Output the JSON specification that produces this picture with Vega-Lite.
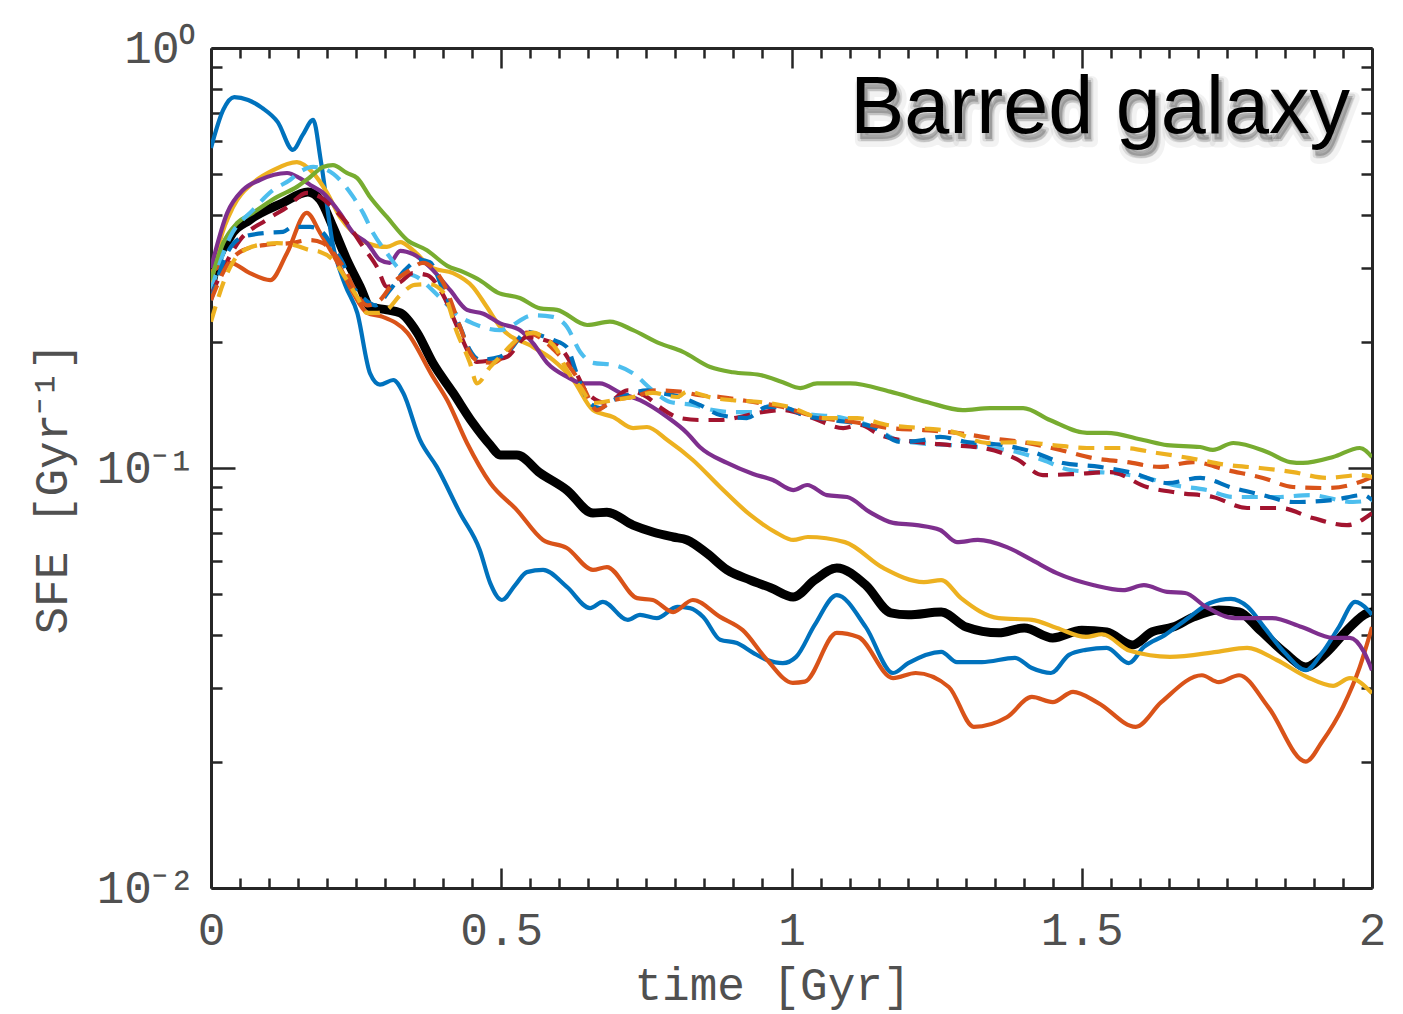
{
  "$schema": "https://vega.github.io/schema/vega-lite/v6.json",
  "autosize": {"type": "none"},
  "width": 1161,
  "height": 840,
  "padding": {"left": 211, "top": 48, "right": 31, "bottom": 126},
  "background": "white",
  "config": {
    "view": {"stroke": null},
    "axis": {
      "grid": false,
      "domainColor": "#262626",
      "tickColor": "#262626",
      "labelColor": "#505050",
      "titleColor": "#505050",
      "labelFont": "Liberation Mono",
      "titleFont": "Liberation Mono",
      "labelFontSize": 46,
      "titleFontSize": 46,
      "titleFontWeight": "normal",
      "labelFlush": false,
      "labelOverlap": false
    }
  },
  "datasets": {
    "mean": [
      {"t":0,"v":0.265},{"t":0.003,"v":0.280},{"t":0.033,"v":0.355},{"t":0.067,"v":0.390},{"t":0.124,"v":0.428},{"t":0.167,"v":0.454},{"t":0.188,"v":0.435},{"t":0.210,"v":0.375},{"t":0.234,"v":0.313},{"t":0.257,"v":0.270},{"t":0.274,"v":0.242},{"t":0.303,"v":0.238},{"t":0.326,"v":0.234},{"t":0.355,"v":0.210},{"t":0.382,"v":0.178},{"t":0.417,"v":0.151},{"t":0.451,"v":0.128},{"t":0.481,"v":0.1134},{"t":0.498,"v":0.1074},{"t":0.527,"v":0.1074},{"t":0.567,"v":0.0973},{"t":0.613,"v":0.0886},{"t":0.658,"v":0.0781},{"t":0.682,"v":0.0785},{"t":0.727,"v":0.0731},{"t":0.761,"v":0.0704},{"t":0.796,"v":0.0685},{"t":0.820,"v":0.0674},{"t":0.854,"v":0.0627},{"t":0.889,"v":0.0572},{"t":0.929,"v":0.0541},{"t":0.965,"v":0.0518},{"t":1.003,"v":0.0493},{"t":1.040,"v":0.0541},{"t":1.078,"v":0.0578},{"t":1.128,"v":0.0526},{"t":1.171,"v":0.0452},{"t":1.201,"v":0.0447},{"t":1.258,"v":0.0454},{"t":1.301,"v":0.0418},{"t":1.357,"v":0.0405},{"t":1.401,"v":0.0416},{"t":1.450,"v":0.0394},{"t":1.500,"v":0.0411},{"t":1.543,"v":0.0407},{"t":1.587,"v":0.0379},{"t":1.621,"v":0.0407},{"t":1.657,"v":0.0418},{"t":1.693,"v":0.0442},{"t":1.736,"v":0.0459},{"t":1.771,"v":0.0454},{"t":1.807,"v":0.0411},{"t":1.850,"v":0.0363},{"t":1.886,"v":0.0336},{"t":1.921,"v":0.0363},{"t":1.957,"v":0.0411},{"t":1.993,"v":0.0452},{"t":2.0,"v":0.0454}
    ],
    "solidA": [
      {"s":"s1","t":0,"v":0.578},{"s":"s1","t":0.021,"v":0.712},{"s":"s1","t":0.040,"v":0.764},{"s":"s1","t":0.064,"v":0.752},{"s":"s1","t":0.088,"v":0.720},{"s":"s1","t":0.115,"v":0.666},{"s":"s1","t":0.141,"v":0.572},{"s":"s1","t":0.158,"v":0.621},{"s":"s1","t":0.176,"v":0.674},{"s":"s1","t":0.189,"v":0.541},{"s":"s1","t":0.210,"v":0.340},{"s":"s1","t":0.231,"v":0.273},{"s":"s1","t":0.252,"v":0.234},{"s":"s1","t":0.274,"v":0.168},{"s":"s1","t":0.291,"v":0.158},{"s":"s1","t":0.314,"v":0.162},{"s":"s1","t":0.331,"v":0.151},{"s":"s1","t":0.360,"v":0.1166},{"s":"s1","t":0.389,"v":0.1006},{"s":"s1","t":0.429,"v":0.0781},{"s":"s1","t":0.463,"v":0.0638},{"s":"s1","t":0.481,"v":0.0532},{"s":"s1","t":0.501,"v":0.0485},{"s":"s1","t":0.524,"v":0.0526},{"s":"s1","t":0.544,"v":0.0565},{"s":"s1","t":0.572,"v":0.0572},{"s":"s1","t":0.613,"v":0.0521},{"s":"s1","t":0.653,"v":0.0464},{"s":"s1","t":0.675,"v":0.0480},{"s":"s1","t":0.718,"v":0.0435},{"s":"s1","t":0.739,"v":0.0447},{"s":"s1","t":0.768,"v":0.0439},{"s":"s1","t":0.803,"v":0.0467},{"s":"s1","t":0.825,"v":0.0464},{"s":"s1","t":0.848,"v":0.0442},{"s":"s1","t":0.877,"v":0.0390},{"s":"s1","t":0.906,"v":0.0383},{"s":"s1","t":0.934,"v":0.0363},{"s":"s1","t":0.958,"v":0.0349},{"s":"s1","t":0.985,"v":0.0343},{"s":"s1","t":1.008,"v":0.0355},{"s":"s1","t":1.040,"v":0.0423},{"s":"s1","t":1.078,"v":0.0498},{"s":"s1","t":1.128,"v":0.0418},{"s":"s1","t":1.175,"v":0.0325},{"s":"s1","t":1.201,"v":0.0343},{"s":"s1","t":1.258,"v":0.0365},{"s":"s1","t":1.285,"v":0.0345},{"s":"s1","t":1.328,"v":0.0345},{"s":"s1","t":1.385,"v":0.0353},{"s":"s1","t":1.414,"v":0.0334},{"s":"s1","t":1.447,"v":0.0325},{"s":"s1","t":1.478,"v":0.0359},{"s":"s1","t":1.507,"v":0.0369},{"s":"s1","t":1.543,"v":0.0373},{"s":"s1","t":1.581,"v":0.0343},{"s":"s1","t":1.607,"v":0.0375},{"s":"s1","t":1.643,"v":0.0400},{"s":"s1","t":1.686,"v":0.0442},{"s":"s1","t":1.721,"v":0.0477},{"s":"s1","t":1.757,"v":0.0488},{"s":"s1","t":1.786,"v":0.0467},{"s":"s1","t":1.814,"v":0.0418},{"s":"s1","t":1.850,"v":0.0363},{"s":"s1","t":1.886,"v":0.0330},{"s":"s1","t":1.914,"v":0.0363},{"s":"s1","t":1.943,"v":0.0418},{"s":"s1","t":1.971,"v":0.0480},{"s":"s1","t":1.993,"v":0.0459},{"s":"s1","t":2.0,"v":0.0447},
      {"s":"s2","t":0,"v":0.293},{"s":"s2","t":0.033,"v":0.308},{"s":"s2","t":0.067,"v":0.291},{"s":"s2","t":0.102,"v":0.280},{"s":"s2","t":0.131,"v":0.325},{"s":"s2","t":0.165,"v":0.405},{"s":"s2","t":0.188,"v":0.363},{"s":"s2","t":0.222,"v":0.301},{"s":"s2","t":0.245,"v":0.261},{"s":"s2","t":0.269,"v":0.234},{"s":"s2","t":0.296,"v":0.229},{"s":"s2","t":0.338,"v":0.210},{"s":"s2","t":0.382,"v":0.165},{"s":"s2","t":0.407,"v":0.145},{"s":"s2","t":0.441,"v":0.1147},{"s":"s2","t":0.481,"v":0.0921},{"s":"s2","t":0.527,"v":0.0794},{"s":"s2","t":0.572,"v":0.0674},{"s":"s2","t":0.613,"v":0.0645},{"s":"s2","t":0.658,"v":0.0572},{"s":"s2","t":0.682,"v":0.0581},{"s":"s2","t":0.734,"v":0.0490},{"s":"s2","t":0.761,"v":0.0485},{"s":"s2","t":0.796,"v":0.0454},{"s":"s2","t":0.830,"v":0.0485},{"s":"s2","t":0.877,"v":0.0442},{"s":"s2","t":0.916,"v":0.0411},{"s":"s2","t":0.958,"v":0.0349},{"s":"s2","t":1.002,"v":0.0308},{"s":"s2","t":1.023,"v":0.0310},{"s":"s2","t":1.078,"v":0.0405},{"s":"s2","t":1.115,"v":0.0396},{"s":"s2","t":1.175,"v":0.0316},{"s":"s2","t":1.214,"v":0.0325},{"s":"s2","t":1.271,"v":0.0301},{"s":"s2","t":1.314,"v":0.0242},{"s":"s2","t":1.371,"v":0.0255},{"s":"s2","t":1.414,"v":0.0285},{"s":"s2","t":1.450,"v":0.0277},{"s":"s2","t":1.485,"v":0.0293},{"s":"s2","t":1.528,"v":0.0276},{"s":"s2","t":1.593,"v":0.0242},{"s":"s2","t":1.637,"v":0.0277},{"s":"s2","t":1.707,"v":0.0321},{"s":"s2","t":1.736,"v":0.0309},{"s":"s2","t":1.771,"v":0.0321},{"s":"s2","t":1.821,"v":0.0270},{"s":"s2","t":1.886,"v":0.0200},{"s":"s2","t":1.914,"v":0.0223},{"s":"s2","t":1.950,"v":0.0270},{"s":"s2","t":1.979,"v":0.0336},{"s":"s2","t":2.0,"v":0.0418},
      {"s":"s3","t":0,"v":0.273},{"s":"s3","t":0.016,"v":0.349},{"s":"s3","t":0.038,"v":0.418},{"s":"s3","t":0.072,"v":0.477},{"s":"s3","t":0.107,"v":0.512},{"s":"s3","t":0.148,"v":0.535},{"s":"s3","t":0.176,"v":0.504},{"s":"s3","t":0.200,"v":0.452},{"s":"s3","t":0.222,"v":0.396},{"s":"s3","t":0.245,"v":0.363},{"s":"s3","t":0.269,"v":0.343},{"s":"s3","t":0.303,"v":0.336},{"s":"s3","t":0.326,"v":0.345},{"s":"s3","t":0.348,"v":0.330},{"s":"s3","t":0.382,"v":0.299},{"s":"s3","t":0.417,"v":0.291},{"s":"s3","t":0.451,"v":0.270},{"s":"s3","t":0.475,"v":0.242},{"s":"s3","t":0.498,"v":0.217},{"s":"s3","t":0.555,"v":0.194},{"s":"s3","t":0.589,"v":0.181},{"s":"s3","t":0.624,"v":0.162},{"s":"s3","t":0.658,"v":0.1374},{"s":"s3","t":0.693,"v":0.1322},{"s":"s3","t":0.727,"v":0.1245},{"s":"s3","t":0.751,"v":0.1252},{"s":"s3","t":0.786,"v":0.1166},{"s":"s3","t":0.830,"v":0.1045},{"s":"s3","t":0.877,"v":0.0901},{"s":"s3","t":0.929,"v":0.0773},{"s":"s3","t":0.975,"v":0.0700},{"s":"s3","t":1.003,"v":0.0674},{"s":"s3","t":1.028,"v":0.0685},{"s":"s3","t":1.092,"v":0.0666},{"s":"s3","t":1.158,"v":0.0578},{"s":"s3","t":1.228,"v":0.0535},{"s":"s3","t":1.258,"v":0.0541},{"s":"s3","t":1.292,"v":0.0490},{"s":"s3","t":1.357,"v":0.0439},{"s":"s3","t":1.414,"v":0.0435},{"s":"s3","t":1.457,"v":0.0416},{"s":"s3","t":1.507,"v":0.0396},{"s":"s3","t":1.535,"v":0.0402},{"s":"s3","t":1.583,"v":0.0367},{"s":"s3","t":1.652,"v":0.0355},{"s":"s3","t":1.733,"v":0.0365},{"s":"s3","t":1.785,"v":0.0373},{"s":"s3","t":1.836,"v":0.0349},{"s":"s3","t":1.888,"v":0.0318},{"s":"s3","t":1.933,"v":0.0303},{"s":"s3","t":1.962,"v":0.0316},{"s":"s3","t":2.0,"v":0.0291}
    ],
    "solidB": [
      {"s":"s4","t":0,"v":0.299},{"s":"s4","t":0.028,"v":0.405},{"s":"s4","t":0.055,"v":0.459},{"s":"s4","t":0.084,"v":0.485},{"s":"s4","t":0.131,"v":0.504},{"s":"s4","t":0.153,"v":0.490},{"s":"s4","t":0.171,"v":0.472},{"s":"s4","t":0.193,"v":0.452},{"s":"s4","t":0.222,"v":0.405},{"s":"s4","t":0.245,"v":0.363},{"s":"s4","t":0.269,"v":0.343},{"s":"s4","t":0.291,"v":0.313},{"s":"s4","t":0.308,"v":0.308},{"s":"s4","t":0.326,"v":0.329},{"s":"s4","t":0.348,"v":0.323},{"s":"s4","t":0.377,"v":0.301},{"s":"s4","t":0.412,"v":0.265},{"s":"s4","t":0.441,"v":0.238},{"s":"s4","t":0.469,"v":0.233},{"s":"s4","t":0.498,"v":0.221},{"s":"s4","t":0.532,"v":0.213},{"s":"s4","t":0.555,"v":0.198},{"s":"s4","t":0.579,"v":0.178},{"s":"s4","t":0.613,"v":0.165},{"s":"s4","t":0.641,"v":0.159},{"s":"s4","t":0.670,"v":0.159},{"s":"s4","t":0.705,"v":0.151},{"s":"s4","t":0.739,"v":0.145},{"s":"s4","t":0.786,"v":0.1322},{"s":"s4","t":0.820,"v":0.1212},{"s":"s4","t":0.842,"v":0.1122},{"s":"s4","t":0.889,"v":0.1028},{"s":"s4","t":0.934,"v":0.0968},{"s":"s4","t":0.968,"v":0.0936},{"s":"s4","t":1.003,"v":0.0886},{"s":"s4","t":1.027,"v":0.0911},{"s":"s4","t":1.061,"v":0.0862},{"s":"s4","t":1.096,"v":0.0853},{"s":"s4","t":1.135,"v":0.0785},{"s":"s4","t":1.175,"v":0.0740},{"s":"s4","t":1.216,"v":0.0731},{"s":"s4","t":1.256,"v":0.0712},{"s":"s4","t":1.285,"v":0.0666},{"s":"s4","t":1.321,"v":0.0674},{"s":"s4","t":1.371,"v":0.0648},{"s":"s4","t":1.414,"v":0.0604},{"s":"s4","t":1.457,"v":0.0562},{"s":"s4","t":1.521,"v":0.0526},{"s":"s4","t":1.571,"v":0.0512},{"s":"s4","t":1.607,"v":0.0526},{"s":"s4","t":1.647,"v":0.0507},{"s":"s4","t":1.678,"v":0.0504},{"s":"s4","t":1.714,"v":0.0467},{"s":"s4","t":1.764,"v":0.0439},{"s":"s4","t":1.828,"v":0.0439},{"s":"s4","t":1.879,"v":0.0418},{"s":"s4","t":1.933,"v":0.0394},{"s":"s4","t":1.962,"v":0.0394},{"s":"s4","t":1.986,"v":0.0365},{"s":"s4","t":2.0,"v":0.0330},
      {"s":"s5","t":0,"v":0.280},{"s":"s5","t":0.021,"v":0.343},{"s":"s5","t":0.045,"v":0.383},{"s":"s5","t":0.072,"v":0.405},{"s":"s5","t":0.114,"v":0.442},{"s":"s5","t":0.148,"v":0.467},{"s":"s5","t":0.171,"v":0.493},{"s":"s5","t":0.193,"v":0.521},{"s":"s5","t":0.210,"v":0.526},{"s":"s5","t":0.234,"v":0.504},{"s":"s5","t":0.252,"v":0.490},{"s":"s5","t":0.274,"v":0.442},{"s":"s5","t":0.303,"v":0.396},{"s":"s5","t":0.338,"v":0.349},{"s":"s5","t":0.372,"v":0.330},{"s":"s5","t":0.407,"v":0.303},{"s":"s5","t":0.434,"v":0.293},{"s":"s5","t":0.463,"v":0.280},{"s":"s5","t":0.493,"v":0.262},{"s":"s5","t":0.532,"v":0.254},{"s":"s5","t":0.567,"v":0.240},{"s":"s5","t":0.596,"v":0.238},{"s":"s5","t":0.648,"v":0.219},{"s":"s5","t":0.687,"v":0.223},{"s":"s5","t":0.727,"v":0.213},{"s":"s5","t":0.773,"v":0.198},{"s":"s5","t":0.813,"v":0.189},{"s":"s5","t":0.860,"v":0.174},{"s":"s5","t":0.899,"v":0.169},{"s":"s5","t":0.946,"v":0.1665},{"s":"s5","t":0.985,"v":0.160},{"s":"s5","t":1.015,"v":0.155},{"s":"s5","t":1.044,"v":0.159},{"s":"s5","t":1.101,"v":0.159},{"s":"s5","t":1.170,"v":0.152},{"s":"s5","t":1.233,"v":0.1436},{"s":"s5","t":1.295,"v":0.1374},{"s":"s5","t":1.342,"v":0.1389},{"s":"s5","t":1.399,"v":0.1389},{"s":"s5","t":1.445,"v":0.1301},{"s":"s5","t":1.509,"v":0.1212},{"s":"s5","t":1.543,"v":0.1212},{"s":"s5","t":1.606,"v":0.1166},{"s":"s5","t":1.647,"v":0.1134},{"s":"s5","t":1.704,"v":0.1122},{"s":"s5","t":1.726,"v":0.1104},{"s":"s5","t":1.761,"v":0.1147},{"s":"s5","t":1.819,"v":0.1092},{"s":"s5","t":1.859,"v":0.1033},{"s":"s5","t":1.881,"v":0.1028},{"s":"s5","t":1.933,"v":0.1062},{"s":"s5","t":1.979,"v":0.1116},{"s":"s5","t":2.0,"v":0.1062}
    ],
    "dashed": [
      {"s":"d1","t":0,"v":0.265},{"s":"d1","t":0.033,"v":0.355},{"s":"d1","t":0.072,"v":0.411},{"s":"d1","t":0.107,"v":0.459},{"s":"d1","t":0.136,"v":0.485},{"s":"d1","t":0.153,"v":0.507},{"s":"d1","t":0.176,"v":0.521},{"s":"d1","t":0.200,"v":0.512},{"s":"d1","t":0.227,"v":0.477},{"s":"d1","t":0.245,"v":0.442},{"s":"d1","t":0.262,"v":0.405},{"s":"d1","t":0.279,"v":0.363},{"s":"d1","t":0.303,"v":0.325},{"s":"d1","t":0.326,"v":0.296},{"s":"d1","t":0.355,"v":0.285},{"s":"d1","t":0.394,"v":0.255},{"s":"d1","t":0.429,"v":0.229},{"s":"d1","t":0.451,"v":0.221},{"s":"d1","t":0.498,"v":0.213},{"s":"d1","t":0.555,"v":0.231},{"s":"d1","t":0.589,"v":0.229},{"s":"d1","t":0.613,"v":0.217},{"s":"d1","t":0.636,"v":0.189},{"s":"d1","t":0.658,"v":0.178},{"s":"d1","t":0.693,"v":0.176},{"s":"d1","t":0.727,"v":0.168},{"s":"d1","t":0.761,"v":0.153},{"s":"d1","t":0.791,"v":0.1436},{"s":"d1","t":0.830,"v":0.1413},{"s":"d1","t":0.865,"v":0.1374},{"s":"d1","t":0.899,"v":0.1359},{"s":"d1","t":0.934,"v":0.1359},{"s":"d1","t":0.968,"v":0.1413},{"s":"d1","t":1.015,"v":0.1352},{"s":"d1","t":1.089,"v":0.1315},{"s":"d1","t":1.140,"v":0.1252},{"s":"d1","t":1.182,"v":0.1166},{"s":"d1","t":1.216,"v":0.1147},{"s":"d1","t":1.273,"v":0.1134},{"s":"d1","t":1.371,"v":0.1104},{"s":"d1","t":1.433,"v":0.1045},{"s":"d1","t":1.480,"v":0.0989},{"s":"d1","t":1.549,"v":0.0973},{"s":"d1","t":1.612,"v":0.0947},{"s":"d1","t":1.657,"v":0.0911},{"s":"d1","t":1.716,"v":0.0886},{"s":"d1","t":1.761,"v":0.0853},{"s":"d1","t":1.836,"v":0.0853},{"s":"d1","t":1.893,"v":0.0862},{"s":"d1","t":1.967,"v":0.0830},{"s":"d1","t":2.0,"v":0.0839},
      {"s":"d2","t":0,"v":0.258},{"s":"d2","t":0.050,"v":0.349},{"s":"d2","t":0.096,"v":0.390},{"s":"d2","t":0.131,"v":0.418},{"s":"d2","t":0.165,"v":0.452},{"s":"d2","t":0.188,"v":0.442},{"s":"d2","t":0.210,"v":0.416},{"s":"d2","t":0.234,"v":0.383},{"s":"d2","t":0.262,"v":0.336},{"s":"d2","t":0.286,"v":0.301},{"s":"d2","t":0.303,"v":0.270},{"s":"d2","t":0.326,"v":0.277},{"s":"d2","t":0.348,"v":0.291},{"s":"d2","t":0.372,"v":0.288},{"s":"d2","t":0.400,"v":0.258},{"s":"d2","t":0.424,"v":0.217},{"s":"d2","t":0.446,"v":0.186},{"s":"d2","t":0.458,"v":0.179},{"s":"d2","t":0.486,"v":0.181},{"s":"d2","t":0.510,"v":0.184},{"s":"d2","t":0.544,"v":0.205},{"s":"d2","t":0.572,"v":0.202},{"s":"d2","t":0.601,"v":0.194},{"s":"d2","t":0.624,"v":0.174},{"s":"d2","t":0.648,"v":0.151},{"s":"d2","t":0.682,"v":0.1428},{"s":"d2","t":0.717,"v":0.153},{"s":"d2","t":0.751,"v":0.1476},{"s":"d2","t":0.773,"v":0.1397},{"s":"d2","t":0.808,"v":0.1315},{"s":"d2","t":0.842,"v":0.1301},{"s":"d2","t":0.877,"v":0.1301},{"s":"d2","t":0.911,"v":0.1322},{"s":"d2","t":0.941,"v":0.1352},{"s":"d2","t":0.985,"v":0.1374},{"s":"d2","t":1.032,"v":0.1322},{"s":"d2","t":1.089,"v":0.1245},{"s":"d2","t":1.118,"v":0.1266},{"s":"d2","t":1.152,"v":0.1199},{"s":"d2","t":1.216,"v":0.1153},{"s":"d2","t":1.273,"v":0.1134},{"s":"d2","t":1.330,"v":0.1116},{"s":"d2","t":1.388,"v":0.1050},{"s":"d2","t":1.433,"v":0.0962},{"s":"d2","t":1.492,"v":0.0968},{"s":"d2","t":1.549,"v":0.0978},{"s":"d2","t":1.612,"v":0.0901},{"s":"d2","t":1.669,"v":0.0872},{"s":"d2","t":1.726,"v":0.0853},{"s":"d2","t":1.785,"v":0.0803},{"s":"d2","t":1.842,"v":0.0803},{"s":"d2","t":1.898,"v":0.0760},{"s":"d2","t":1.957,"v":0.0731},{"s":"d2","t":2.0,"v":0.0781},
      {"s":"d3","t":0,"v":0.251},{"s":"d3","t":0.028,"v":0.325},{"s":"d3","t":0.055,"v":0.355},{"s":"d3","t":0.096,"v":0.363},{"s":"d3","t":0.124,"v":0.365},{"s":"d3","t":0.141,"v":0.375},{"s":"d3","t":0.171,"v":0.375},{"s":"d3","t":0.193,"v":0.363},{"s":"d3","t":0.210,"v":0.336},{"s":"d3","t":0.227,"v":0.308},{"s":"d3","t":0.245,"v":0.270},{"s":"d3","t":0.262,"v":0.254},{"s":"d3","t":0.283,"v":0.244},{"s":"d3","t":0.308,"v":0.265},{"s":"d3","t":0.334,"v":0.296},{"s":"d3","t":0.360,"v":0.313},{"s":"d3","t":0.377,"v":0.309},{"s":"d3","t":0.400,"v":0.265},{"s":"d3","t":0.429,"v":0.217},{"s":"d3","t":0.446,"v":0.191},{"s":"d3","t":0.463,"v":0.181},{"s":"d3","t":0.498,"v":0.184},{"s":"d3","t":0.515,"v":0.191},{"s":"d3","t":0.544,"v":0.211},{"s":"d3","t":0.567,"v":0.207},{"s":"d3","t":0.589,"v":0.202},{"s":"d3","t":0.613,"v":0.194},{"s":"d3","t":0.630,"v":0.168},{"s":"d3","t":0.653,"v":0.1428},{"s":"d3","t":0.670,"v":0.1389},{"s":"d3","t":0.693,"v":0.145},{"s":"d3","t":0.717,"v":0.149},{"s":"d3","t":0.751,"v":0.153},{"s":"d3","t":0.773,"v":0.151},{"s":"d3","t":0.808,"v":0.1476},{"s":"d3","t":0.842,"v":0.1413},{"s":"d3","t":0.877,"v":0.1337},{"s":"d3","t":0.923,"v":0.1315},{"s":"d3","t":0.958,"v":0.1397},{"s":"d3","t":0.992,"v":0.1389},{"s":"d3","t":1.020,"v":0.1337},{"s":"d3","t":1.071,"v":0.1301},{"s":"d3","t":1.140,"v":0.1252},{"s":"d3","t":1.187,"v":0.1153},{"s":"d3","t":1.227,"v":0.1166},{"s":"d3","t":1.256,"v":0.1186},{"s":"d3","t":1.302,"v":0.1153},{"s":"d3","t":1.364,"v":0.1134},{"s":"d3","t":1.416,"v":0.1092},{"s":"d3","t":1.468,"v":0.1028},{"s":"d3","t":1.531,"v":0.1006},{"s":"d3","t":1.588,"v":0.0973},{"s":"d3","t":1.647,"v":0.0921},{"s":"d3","t":1.704,"v":0.0947},{"s":"d3","t":1.761,"v":0.0896},{"s":"d3","t":1.812,"v":0.0862},{"s":"d3","t":1.864,"v":0.0830},{"s":"d3","t":1.933,"v":0.0839},{"s":"d3","t":1.985,"v":0.0862},{"s":"d3","t":2.0,"v":0.0839},
      {"s":"d4","t":0,"v":0.251},{"s":"d4","t":0.028,"v":0.304},{"s":"d4","t":0.055,"v":0.330},{"s":"d4","t":0.096,"v":0.340},{"s":"d4","t":0.136,"v":0.343},{"s":"d4","t":0.171,"v":0.349},{"s":"d4","t":0.193,"v":0.343},{"s":"d4","t":0.214,"v":0.321},{"s":"d4","t":0.231,"v":0.296},{"s":"d4","t":0.248,"v":0.265},{"s":"d4","t":0.269,"v":0.244},{"s":"d4","t":0.291,"v":0.251},{"s":"d4","t":0.314,"v":0.276},{"s":"d4","t":0.343,"v":0.296},{"s":"d4","t":0.365,"v":0.308},{"s":"d4","t":0.400,"v":0.276},{"s":"d4","t":0.429,"v":0.217},{"s":"d4","t":0.446,"v":0.188},{"s":"d4","t":0.463,"v":0.179},{"s":"d4","t":0.486,"v":0.178},{"s":"d4","t":0.503,"v":0.184},{"s":"d4","t":0.544,"v":0.210},{"s":"d4","t":0.572,"v":0.202},{"s":"d4","t":0.596,"v":0.188},{"s":"d4","t":0.618,"v":0.174},{"s":"d4","t":0.641,"v":0.156},{"s":"d4","t":0.665,"v":0.1374},{"s":"d4","t":0.693,"v":0.145},{"s":"d4","t":0.727,"v":0.1476},{"s":"d4","t":0.768,"v":0.153},{"s":"d4","t":0.808,"v":0.152},{"s":"d4","t":0.842,"v":0.149},{"s":"d4","t":0.877,"v":0.1476},{"s":"d4","t":0.934,"v":0.1436},{"s":"d4","t":0.985,"v":0.1397},{"s":"d4","t":1.044,"v":0.1322},{"s":"d4","t":1.106,"v":0.1287},{"s":"d4","t":1.170,"v":0.1245},{"s":"d4","t":1.227,"v":0.1231},{"s":"d4","t":1.285,"v":0.1212},{"s":"d4","t":1.342,"v":0.1179},{"s":"d4","t":1.406,"v":0.1147},{"s":"d4","t":1.463,"v":0.1104},{"s":"d4","t":1.519,"v":0.1056},{"s":"d4","t":1.578,"v":0.1033},{"s":"d4","t":1.635,"v":0.1006},{"s":"d4","t":1.692,"v":0.1033},{"s":"d4","t":1.750,"v":0.0989},{"s":"d4","t":1.812,"v":0.0947},{"s":"d4","t":1.864,"v":0.0901},{"s":"d4","t":1.922,"v":0.0896},{"s":"d4","t":1.979,"v":0.0926},{"s":"d4","t":2.0,"v":0.0952},
      {"s":"d5","t":0,"v":0.223},{"s":"d5","t":0.028,"v":0.291},{"s":"d5","t":0.050,"v":0.325},{"s":"d5","t":0.084,"v":0.340},{"s":"d5","t":0.114,"v":0.343},{"s":"d5","t":0.141,"v":0.340},{"s":"d5","t":0.171,"v":0.330},{"s":"d5","t":0.188,"v":0.327},{"s":"d5","t":0.210,"v":0.313},{"s":"d5","t":0.234,"v":0.280},{"s":"d5","t":0.252,"v":0.255},{"s":"d5","t":0.269,"v":0.234},{"s":"d5","t":0.286,"v":0.234},{"s":"d5","t":0.303,"v":0.238},{"s":"d5","t":0.326,"v":0.258},{"s":"d5","t":0.351,"v":0.273},{"s":"d5","t":0.377,"v":0.274},{"s":"d5","t":0.400,"v":0.262},{"s":"d5","t":0.424,"v":0.210},{"s":"d5","t":0.446,"v":0.178},{"s":"d5","t":0.458,"v":0.159},{"s":"d5","t":0.481,"v":0.174},{"s":"d5","t":0.498,"v":0.184},{"s":"d5","t":0.527,"v":0.202},{"s":"d5","t":0.555,"v":0.210},{"s":"d5","t":0.572,"v":0.205},{"s":"d5","t":0.596,"v":0.191},{"s":"d5","t":0.613,"v":0.171},{"s":"d5","t":0.636,"v":0.156},{"s":"d5","t":0.658,"v":0.1428},{"s":"d5","t":0.693,"v":0.145},{"s":"d5","t":0.727,"v":0.1476},{"s":"d5","t":0.761,"v":0.151},{"s":"d5","t":0.803,"v":0.1476},{"s":"d5","t":0.820,"v":0.152},{"s":"d5","t":0.865,"v":0.1468},{"s":"d5","t":0.899,"v":0.145},{"s":"d5","t":0.946,"v":0.1436},{"s":"d5","t":0.997,"v":0.1397},{"s":"d5","t":1.054,"v":0.1315},{"s":"d5","t":1.113,"v":0.1315},{"s":"d5","t":1.165,"v":0.1266},{"s":"d5","t":1.221,"v":0.1245},{"s":"d5","t":1.278,"v":0.1219},{"s":"d5","t":1.337,"v":0.1147},{"s":"d5","t":1.394,"v":0.1153},{"s":"d5","t":1.450,"v":0.1134},{"s":"d5","t":1.509,"v":0.1116},{"s":"d5","t":1.571,"v":0.1116},{"s":"d5","t":1.630,"v":0.1086},{"s":"d5","t":1.686,"v":0.1056},{"s":"d5","t":1.750,"v":0.1017},{"s":"d5","t":1.807,"v":0.1000},{"s":"d5","t":1.864,"v":0.0978},{"s":"d5","t":1.922,"v":0.0947},{"s":"d5","t":1.979,"v":0.0962},{"s":"d5","t":2.0,"v":0.0952}
    ],
    "label": [{"name": "Barred galaxy"}]
  },
  "resolve": {"axis": {"x": "independent", "y": "independent"}},
  "layer": [
    {
      "data": {"name": "mean"},
      "mark": {"type": "line", "color": "#000000", "strokeWidth": 9, "strokeJoin": "round", "strokeCap": "round", "interpolate": "monotone", "clip": true},
      "encoding": {
        "x": {"field": "t", "type": "quantitative", "scale": {"domain": [0, 2], "nice": false, "zero": false},
          "axis": {"orient": "bottom", "values": [0, 0.5, 1, 1.5, 2], "format": "~g", "tickSize": -20, "tickWidth": 2.5, "domainWidth": 3, "labelPadding": 40, "title": "time [Gyr]", "titlePadding": 10, "titleX": 561}},
        "y": {"field": "v", "type": "quantitative", "scale": {"type": "log", "domain": [0.01, 1], "nice": false},
          "axis": {"orient": "left", "values": [0.01, 0.1, 1], "labelExpr": "datum.value > 0.5 ? '10⁰' : (datum.value > 0.05 ? '10⁻¹' : '10⁻²')", "tickSize": -24, "tickWidth": 2.5, "domainWidth": 3, "labelPadding": 40, "title": "SFE [Gyr⁻¹]", "titlePadding": 20, "titleY": 440}}
      }
    },
    {
      "data": {"name": "solidA"},
      "mark": {"type": "line", "strokeWidth": 4.2, "strokeJoin": "round", "interpolate": "monotone", "clip": true},
      "encoding": {
        "x": {"field": "t", "type": "quantitative", "scale": {"domain": [0, 2], "nice": false, "zero": false},
          "axis": {"orient": "top", "values": [0, 0.5, 1, 1.5, 2], "labels": false, "tickSize": -20, "tickWidth": 2.5, "domainWidth": 3, "title": null}},
        "y": {"field": "v", "type": "quantitative", "scale": {"type": "log", "domain": [0.01, 1], "nice": false},
          "axis": {"orient": "right", "values": [0.01, 0.1, 1], "labels": false, "tickSize": -24, "tickWidth": 2.5, "domainWidth": 3, "title": null}},
        "color": {"field": "s", "type": "nominal", "legend": null,
          "scale": {"domain": ["s1","s2","s3","s4","s5","d1","d2","d3","d4","d5"], "range": ["#0072BD","#D95319","#EDB120","#7E2F8E","#77AC30","#4DBEEE","#A2142F","#0072BD","#D95319","#EDB120"]}}
      }
    },
    {
      "data": {"name": "solidB"},
      "mark": {"type": "line", "strokeWidth": 4.2, "strokeJoin": "round", "interpolate": "monotone", "clip": true},
      "encoding": {
        "x": {"field": "t", "type": "quantitative", "scale": {"domain": [0, 2], "nice": false, "zero": false},
          "axis": {"orient": "bottom", "values": [0.05,0.1,0.15,0.2,0.25,0.3,0.35,0.4,0.45,0.55,0.6,0.65,0.7,0.75,0.8,0.85,0.9,0.95,1.05,1.1,1.15,1.2,1.25,1.3,1.35,1.4,1.45,1.55,1.6,1.65,1.7,1.75,1.8,1.85,1.9,1.95], "labels": false, "domain": false, "tickSize": -10, "tickWidth": 2.5, "title": null}},
        "y": {"field": "v", "type": "quantitative", "scale": {"type": "log", "domain": [0.01, 1], "nice": false},
          "axis": {"orient": "left", "values": [0.02,0.03,0.04,0.05,0.06,0.07,0.08,0.09,0.2,0.3,0.4,0.5,0.6,0.7,0.8,0.9], "labels": false, "domain": false, "tickSize": -11, "tickWidth": 2.5, "title": null}},
        "color": {"field": "s", "type": "nominal", "legend": null}
      }
    },
    {
      "data": {"name": "dashed"},
      "mark": {"type": "line", "strokeWidth": 4.2, "strokeDash": [16, 10], "interpolate": "monotone", "clip": true},
      "encoding": {
        "x": {"field": "t", "type": "quantitative", "scale": {"domain": [0, 2], "nice": false, "zero": false},
          "axis": {"orient": "top", "values": [0.05,0.1,0.15,0.2,0.25,0.3,0.35,0.4,0.45,0.55,0.6,0.65,0.7,0.75,0.8,0.85,0.9,0.95,1.05,1.1,1.15,1.2,1.25,1.3,1.35,1.4,1.45,1.55,1.6,1.65,1.7,1.75,1.8,1.85,1.9,1.95], "labels": false, "domain": false, "tickSize": -10, "tickWidth": 2.5, "title": null}},
        "y": {"field": "v", "type": "quantitative", "scale": {"type": "log", "domain": [0.01, 1], "nice": false},
          "axis": {"orient": "right", "values": [0.02,0.03,0.04,0.05,0.06,0.07,0.08,0.09,0.2,0.3,0.4,0.5,0.6,0.7,0.8,0.9], "labels": false, "domain": false, "tickSize": -11, "tickWidth": 2.5, "title": null}},
        "color": {"field": "s", "type": "nominal", "legend": null}
      }
    },
    {
      "data": {"name": "label"},
      "mark": {"type": "text", "align": "right", "baseline": "alphabetic", "font": "Liberation Sans", "fontSize": 81, "fill": "#000000", "fillOpacity": 0.1, "stroke": "#000000", "strokeWidth": 12, "strokeOpacity": 0.05, "strokeJoin": "round", "dx": 4, "dy": 8},
      "encoding": {
        "text": {"field": "name"},
        "x": {"datum": 1.962, "type": "quantitative", "axis": null},
        "y": {"datum": 0.628, "type": "quantitative", "axis": null}
      }
    },
    {
      "data": {"name": "label"},
      "mark": {"type": "text", "align": "right", "baseline": "alphabetic", "font": "Liberation Sans", "fontSize": 81, "fill": "#000000", "fillOpacity": 0.2, "stroke": "#000000", "strokeWidth": 5, "strokeOpacity": 0.1, "strokeJoin": "round", "dx": 3, "dy": 6},
      "encoding": {
        "text": {"field": "name"},
        "x": {"datum": 1.962, "type": "quantitative", "axis": null},
        "y": {"datum": 0.628, "type": "quantitative", "axis": null}
      }
    },
    {
      "data": {"name": "label"},
      "mark": {"type": "text", "align": "right", "baseline": "alphabetic", "font": "Liberation Sans", "fontSize": 81, "fill": "#000000"},
      "encoding": {
        "text": {"field": "name"},
        "x": {"datum": 1.962, "type": "quantitative", "axis": null},
        "y": {"datum": 0.628, "type": "quantitative", "axis": null}
      }
    }
  ]
}
